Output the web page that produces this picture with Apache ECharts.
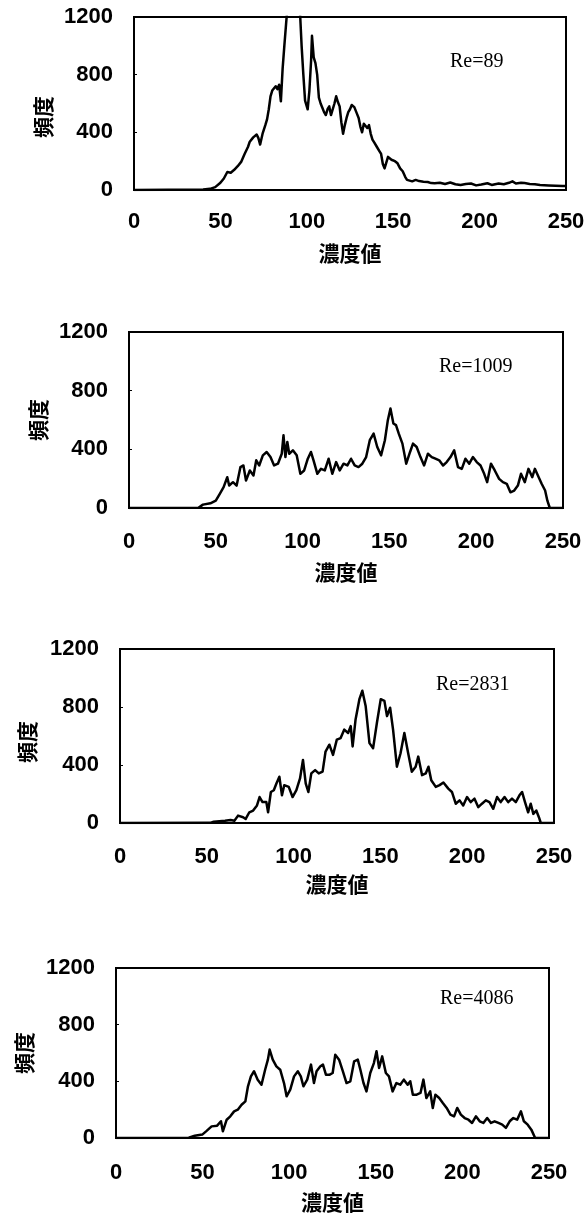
<!DOCTYPE html>
<html>
<head>
<meta charset="utf-8">
<script src="https://cdn.jsdelivr.net/npm/echarts@6/dist/echarts.min.js"></script>
<style>
html,body{margin:0;padding:0;background:#fff;}
#chart{width:588px;height:1214px;}
</style>
</head>
<body>
<div id="chart"></div>
<script>
// ---- data (x = 濃度値, y = 頻度) ----
var xTicks = [0, 50, 100, 150, 200, 250];
var yTicks = [0, 400, 800, 1200];
var reLabels = ['Re=89', 'Re=1009', 'Re=2831', 'Re=4086'];

var re89 = [[0,0],[20,2],[40,3],[44,8],[47,20],[50,50],[52,80],[54,125],[56,120],[58,140],[60,165],[62,195],[64,250],[66,300],[67,335],[69,365],[71,385],[72,360],[73,315],[74.5,395],[76,450],[77,490],[78,560],[79,650],[80,690],[82,720],[83,700],[84,730],[85,615],[86,840],[87,1000],[88,1150],[89,1300],[90,1450],[92,1550],[94,1500],[96,1250],[97,1000],[98,800],[99,620],[100.5,560],[101.5,690],[102.5,900],[103,1070],[104,920],[105,880],[106,800],[107,640],[108,600],[109,570],[110,540],[111,520],[112,560],[113,580],[114,520],[115,510],[116,600],[117,650],[118,610],[119,580],[120,470],[121,390],[122,450],[123,500],[124,540],[125,560],[126,590],[127.5,575],[129,530],[130,500],[131,440],[132,400],[133,460],[134,470],[135,430],[136,450],[137,390],[138,350],[139,330],[140.5,300],[142,270],[143,250],[144,180],[145,150],[146,190],[147,230],[148,225],[149,210],[151,200],[152.5,185],[154,150],[155.5,130],[157,90],[158,70],[159,58],[161,60],[163,70],[165,62],[167.5,58],[170,55],[172,48],[174,47],[177,50],[180,42],[183,52],[186,40],[189,35],[192,42],[195,45],[198,32],[201,38],[204.5,47],[207,35],[211,45],[214,40],[217,50],[219,60],[221,45],[224,50],[226,48],[229,42],[232,40],[235,35],[240,32],[244,30],[248,28],[250,27]];

var re1009 = [[0,0],[40,2],[42.6,23],[46.9,32],[50,50],[52.3,96],[54.5,142],[56.6,210],[57.7,153],[59.9,176],[62,153],[64.2,279],[65.9,290],[67.4,187],[69.6,256],[71.7,222],[73.3,325],[75,290],[77.1,359],[79.3,382],[81.5,347],[83.6,290],[85.8,302],[88,370],[89,496],[90.1,347],[91.2,450],[92.3,370],[94.4,393],[96.6,359],[98.7,233],[100.9,256],[103,336],[104.8,382],[106.3,325],[108.5,233],[110.6,267],[112.8,256],[115,336],[117.1,233],[119.3,313],[121.4,256],[123.6,302],[125.8,290],[127.9,336],[130,290],[132.2,279],[134.4,302],[136.6,347],[138.7,462],[140.9,507],[143,416],[145.2,359],[147.4,462],[149.1,599],[150.6,679],[152.3,576],[153.8,565],[155.4,507],[157.5,439],[159.7,302],[161.9,382],[163.6,439],[165.7,416],[167.9,347],[170,290],[172.2,370],[174.4,347],[176.5,336],[178.7,325],[180.9,290],[183,313],[185.2,347],[187.3,393],[189.5,279],[191.7,267],[193.8,336],[196,302],[198.1,347],[200.3,313],[202.5,290],[204.6,233],[206.3,176],[208.5,302],[210.7,256],[213.2,199],[215.4,176],[217.6,165],[219.7,107],[221.9,119],[224,153],[225.8,233],[228,176],[230.1,267],[232.3,210],[233.8,267],[236,210],[237.7,165],[239.7,119],[241,50],[242.4,0],[250,0]];

var re2831 = [[0,0],[52,1],[54,9],[60.5,16],[63.7,21],[65.9,16],[68,51],[70.9,40],[72.4,28],[74.5,74],[76.7,86],[78.9,121],[80.4,179],[82.1,144],[84.3,144],[85.3,74],[86.9,214],[88.6,226],[90.1,272],[91.8,319],[93.3,191],[94.6,261],[97.2,249],[99.4,179],[101.6,226],[103.7,307],[105.4,435],[107,272],[108.5,214],[110.2,342],[112.4,365],[114.5,342],[116.7,354],[118.4,493],[120.6,540],[122.7,470],[124.9,575],[127.1,586],[129.2,644],[131.4,621],[132.9,668],[134,528],[135.7,714],[137.9,854],[139.6,912],[141.5,807],[143.7,551],[145.8,516],[148,691],[150.2,854],[152.3,842],[153.8,737],[155.6,795],[157.3,644],[159.5,388],[161.6,481],[163.8,621],[166,481],[168.1,354],[170.3,388],[171.8,458],[174,330],[176.1,342],[177.7,388],[179.3,295],[181.9,249],[184.1,261],[186.3,279],[189.1,237],[191.2,214],[193.4,133],[195.6,156],[197.7,121],[199.9,179],[202,144],[204.2,168],[206.4,109],[208.5,133],[210.7,156],[212.8,144],[215,98],[217.2,179],[219.3,144],[221.5,179],[223.6,144],[225.8,168],[228,144],[230.1,191],[231.6,214],[233.3,144],[235.1,74],[236.6,133],[238.1,63],[239.8,86],[241.3,40],[242.4,0],[250,0]];

var re4086 = [[0,0],[42,2],[45.5,16],[49.8,24],[52,47],[55.2,82],[58.4,87],[60.6,118],[61.7,47],[63.9,129],[66,153],[68.2,188],[70.3,200],[72.5,235],[74.7,259],[76.2,365],[77.9,435],[79.7,471],[81.8,412],[84,376],[86.1,482],[87.7,553],[88.7,624],[90.5,553],[92.6,506],[94.8,482],[97,388],[98.5,294],[100.6,341],[102.8,435],[105,471],[106.7,435],[108.2,365],[110.4,412],[112.6,518],[114.3,388],[115.8,471],[118,506],[119.5,518],[121.2,447],[123.4,447],[125.1,459],[126.6,588],[128.8,553],[131,471],[133.1,388],[135.3,400],[137.5,541],[139.6,553],[141.1,482],[142.9,388],[144.6,329],[146.8,459],[148.9,529],[150.4,612],[151.9,494],[153.7,576],[155.8,459],[157.6,435],[159.7,329],[161.9,388],[164.1,376],[166.2,412],[168.4,376],[169.9,400],[171.4,306],[173.6,306],[175.8,318],[177.5,412],[179.2,282],[181.4,329],[182.9,212],[184.4,306],[186.6,282],[188.7,247],[190.9,212],[193.1,165],[195.2,153],[197,212],[199.1,165],[201.3,141],[203.5,129],[205.6,106],[207.8,153],[210,118],[212.1,106],[214.3,141],[216.5,106],[218.6,118],[220.8,106],[223,94],[225.1,71],[227.3,118],[229.4,141],[231.6,129],[233.8,188],[235.5,118],[237.7,94],[239.8,59],[242,0],[250,0]];

var seriesData = [re89, re1009, re2831, re4086];

// ---- layout ----
var grids = [
  {left:134, top:17,  width:432, height:173},
  {left:129, top:332, width:434, height:176},
  {left:120, top:649, width:434, height:174},
  {left:116, top:968, width:433, height:170}
];
var xLabelMargin = [21, 23, 23, 24];
var xNameGap = [53, 54, 51, 54];
var yNameGap = [78, 73, 82, 81];
var yNamePad = [[0,27,0,0],[6,0,0,0],[0,12,0,0],[0,0,0,0]];
var reBoxes = [
  {left:450, top:52},
  {left:439, top:357},
  {left:436, top:675},
  {left:440, top:989}
];

var labelFont = {color:'#000', fontFamily:'Liberation Sans', fontWeight:'bold', fontSize:22};
var cjkFont = {color:'#000', fontFamily:'Noto Sans CJK JP', fontWeight:'bold', fontSize:21};

var option = {
  backgroundColor:'#fff',
  animation:false,
  grid: grids.map(function(g){ return Object.assign({show:true, borderColor:'#000', borderWidth:2, backgroundColor:'transparent'}, g); }),
  title: reBoxes.map(function(b,i){
    return {text: reLabels[i], left:b.left, top:b.top, padding:0,
      textStyle:{fontFamily:'Liberation Serif', fontWeight:'normal', fontSize:20, color:'#000'}};
  }),
  xAxis: grids.map(function(g,i){
    return {type:'value', gridIndex:i, min:xTicks[0], max:xTicks[xTicks.length-1], interval:50,
      name:'濃度値', nameLocation:'middle', nameGap:xNameGap[i], nameTextStyle:cjkFont,
      axisLine:{show:true, lineStyle:{color:'#000', width:2}},
      axisTick:{show:false}, splitLine:{show:false},
      axisLabel:Object.assign({margin:xLabelMargin[i], formatter:function(v){return String(v);}}, labelFont)};
  }),
  yAxis: grids.map(function(g,i){
    return {type:'value', gridIndex:i, min:yTicks[0], max:yTicks[yTicks.length-1], interval:400,
      name:'頻度', nameLocation:'middle', nameGap:yNameGap[i],
      nameTextStyle:Object.assign({padding:yNamePad[i]}, cjkFont),
      axisLine:{show:true, lineStyle:{color:'#000', width:2}},
      axisTick:{show:true, inside:true, length:3, lineStyle:{color:'#000', width:1}},
      splitLine:{show:false},
      axisLabel:Object.assign({margin:21, formatter:function(v){return String(v);}}, labelFont)};
  }),
  series: seriesData.map(function(d,i){
    return {type:'line', xAxisIndex:i, yAxisIndex:i, data:d, showSymbol:false, symbol:'none',
      clip:true, lineStyle:{color:'#000', width:2.5, join:'round'}, itemStyle:{color:'#000'}};
  })
};

var chart = echarts.init(document.getElementById('chart'), null, {renderer:'canvas'});
chart.setOption(option);
</script>
</body>
</html>
